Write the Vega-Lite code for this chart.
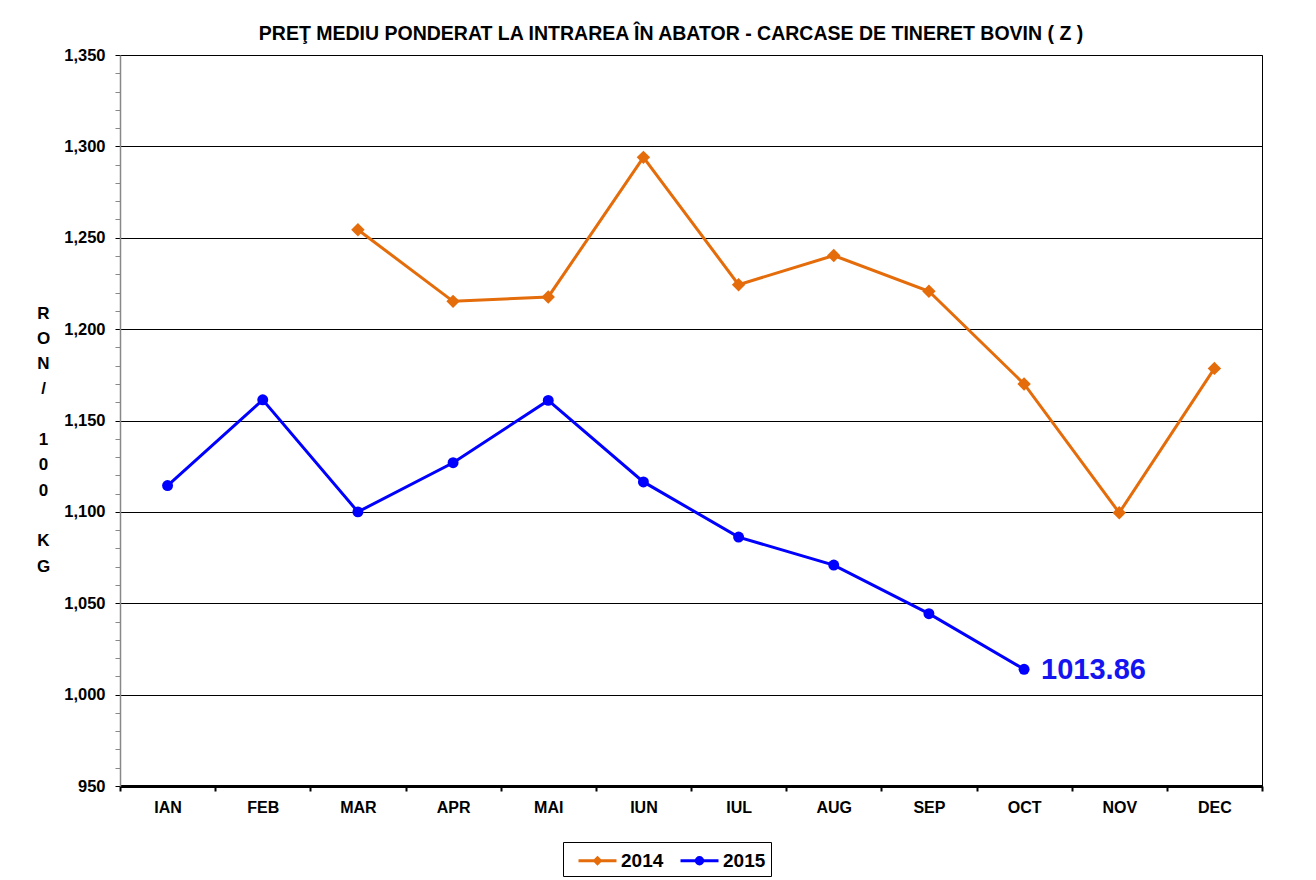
{
  "$schema": "https://vega.github.io/schema/vega-lite/v6.json",
  "width": 1142,
  "height": 731,
  "autosize": {"type": "none"},
  "padding": {"left": 120, "top": 55, "right": 54, "bottom": 94},
  "background": "white",
  "title": {
    "text": "PREŢ MEDIU PONDERAT LA INTRAREA ÎN ABATOR - CARCASE DE TINERET BOVIN ( Z )",
    "font": "Liberation Sans",
    "fontSize": 19.5,
    "fontWeight": "bold",
    "color": "black",
    "anchor": "middle",
    "dx": -20,
    "offset": 3
  },
  "data": {
    "values": [
      {"month": "MAR", "year": "2014", "value": 1254.4},
      {"month": "APR", "year": "2014", "value": 1215.2},
      {"month": "MAI", "year": "2014", "value": 1217.6},
      {"month": "IUN", "year": "2014", "value": 1294.0},
      {"month": "IUL", "year": "2014", "value": 1224.3},
      {"month": "AUG", "year": "2014", "value": 1240.3},
      {"month": "SEP", "year": "2014", "value": 1220.7},
      {"month": "OCT", "year": "2014", "value": 1170.0},
      {"month": "NOV", "year": "2014", "value": 1099.5},
      {"month": "DEC", "year": "2014", "value": 1178.5},
      {"month": "IAN", "year": "2015", "value": 1114.4},
      {"month": "FEB", "year": "2015", "value": 1161.3},
      {"month": "MAR", "year": "2015", "value": 1100.0},
      {"month": "APR", "year": "2015", "value": 1126.9},
      {"month": "MAI", "year": "2015", "value": 1161.0},
      {"month": "IUN", "year": "2015", "value": 1116.4},
      {"month": "IUL", "year": "2015", "value": 1086.2},
      {"month": "AUG", "year": "2015", "value": 1070.9},
      {"month": "SEP", "year": "2015", "value": 1044.3},
      {"month": "OCT", "year": "2015", "value": 1013.86, "label": "1013.86"}
    ]
  },
  "encoding": {
    "x": {
      "field": "month",
      "type": "nominal",
      "scale": {"type": "band", "domain": ["IAN","FEB","MAR","APR","MAI","IUN","IUL","AUG","SEP","OCT","NOV","DEC"], "paddingInner": 0, "paddingOuter": 0},
      "axis": {
        "title": null,
        "labelAngle": 0,
        "tickBand": "extent",
        "domainColor": "black",
        "domainWidth": 3,
        "tickColor": "black",
        "tickWidth": 2,
        "tickSize": 5,
        "labelPadding": 8,
        "labelFont": "Liberation Sans",
        "labelFontSize": 16,
        "labelFontWeight": "bold",
        "labelColor": "black",
        "grid": false
      }
    },
    "y": {
      "field": "value",
      "type": "quantitative",
      "scale": {"domain": [950, 1350], "nice": false, "zero": false},
      "axis": {
        "values": [950,960,970,980,990,1000,1010,1020,1030,1040,1050,1060,1070,1080,1090,1100,1110,1120,1130,1140,1150,1160,1170,1180,1190,1200,1210,1220,1230,1240,1250,1260,1270,1280,1290,1300,1310,1320,1330,1340,1350],
        "labelExpr": "datum.value % 50 === 0 ? format(datum.value, ',d') : ''",
        "labelFont": "Liberation Sans",
        "labelFontSize": 16.5,
        "labelFontWeight": "bold",
        "labelColor": "black",
        "labelPadding": 10,
        "labelOverlap": false,
        "labelBound": false,
        "tickSize": 5,
        "tickColor": {"condition": {"test": "datum.value % 50 === 0", "value": "black"}, "value": "#888888"},
        "domainColor": "#888888",
        "domainWidth": 1.5,
        "grid": true,
        "gridColor": "black",
        "gridWidth": 1,
        "gridOpacity": {"condition": {"test": "datum.value % 50 === 0", "value": 1}, "value": 0},
        "title": ["R","O","N","/","\u200b","1","0","0","\u200b","K","G"],
        "titleAngle": 0,
        "titleAlign": "center",
        "titleBaseline": "middle",
        "titleX": -77,
        "titleY": 258,
        "titleLineHeight": 25.3,
        "titleFont": "Liberation Sans",
        "titleFontSize": 17,
        "titleFontWeight": "bold",
        "titleColor": "black"
      }
    }
  },
  "layer": [
    {
      "mark": {"type": "line", "strokeWidth": 3},
      "encoding": {
        "color": {
          "field": "year",
          "type": "nominal",
          "scale": {"domain": ["2014", "2015"], "range": ["#E46C0A", "#0000FF"]},
          "legend": {
            "orient": "none",
            "legendX": 443,
            "legendY": 787,
            "direction": "horizontal",
            "title": null,
            "strokeColor": "black",
            "fillColor": "white",
            "padding": 5,
            "columnPadding": 6,
            "symbolSize": 564,
            "symbolStrokeWidth": 3,
            "symbolOffset": 16,
            "labelOffset": 10,
            "labelFont": "Liberation Sans",
            "labelFontSize": 19,
            "labelFontWeight": "bold",
            "labelColor": "black",
            "encode": {
              "symbols": {
                "update": {
                  "shape": {"signal": "datum.value === '2014' ? 'M-1.6,0L1.6,0M0,-0.24L0.24,0L0,0.24L-0.24,0Z' : 'M-1.6,0L1.6,0M0.27,0A0.27,0.27 0 1,1 -0.27,0A0.27,0.27 0 1,1 0.27,0Z'"},
                  "fill": {"signal": "datum.value === '2014' ? '#E46C0A' : '#0000FF'"},
                  "stroke": {"signal": "datum.value === '2014' ? '#E46C0A' : '#0000FF'"},
                  "strokeWidth": {"value": 3},
                  "opacity": {"value": 1},
                  "fillOpacity": {"value": 1}
                }
              }
            }
          }
        }
      }
    },
    {
      "transform": [{"filter": "datum.year === '2014'"}],
      "mark": {"type": "point", "filled": true, "opacity": 1, "shape": "diamond", "size": 180},
      "encoding": {
        "color": {"field": "year", "type": "nominal", "legend": null}
      }
    },
    {
      "transform": [{"filter": "datum.year === '2015'"}],
      "mark": {"type": "point", "filled": true, "opacity": 1, "shape": "circle", "size": 120},
      "encoding": {
        "color": {"field": "year", "type": "nominal", "legend": null}
      }
    },
    {
      "transform": [{"filter": "datum.label != null"}],
      "mark": {"type": "text", "align": "left", "baseline": "middle", "dx": 17, "dy": 1, "font": "Liberation Sans", "fontSize": 29, "fontWeight": "bold", "color": "#1414F0"},
      "encoding": {"text": {"field": "label"}}
    }
  ],
  "config": {
    "view": {"stroke": "black", "strokeWidth": 1}
  }
}
